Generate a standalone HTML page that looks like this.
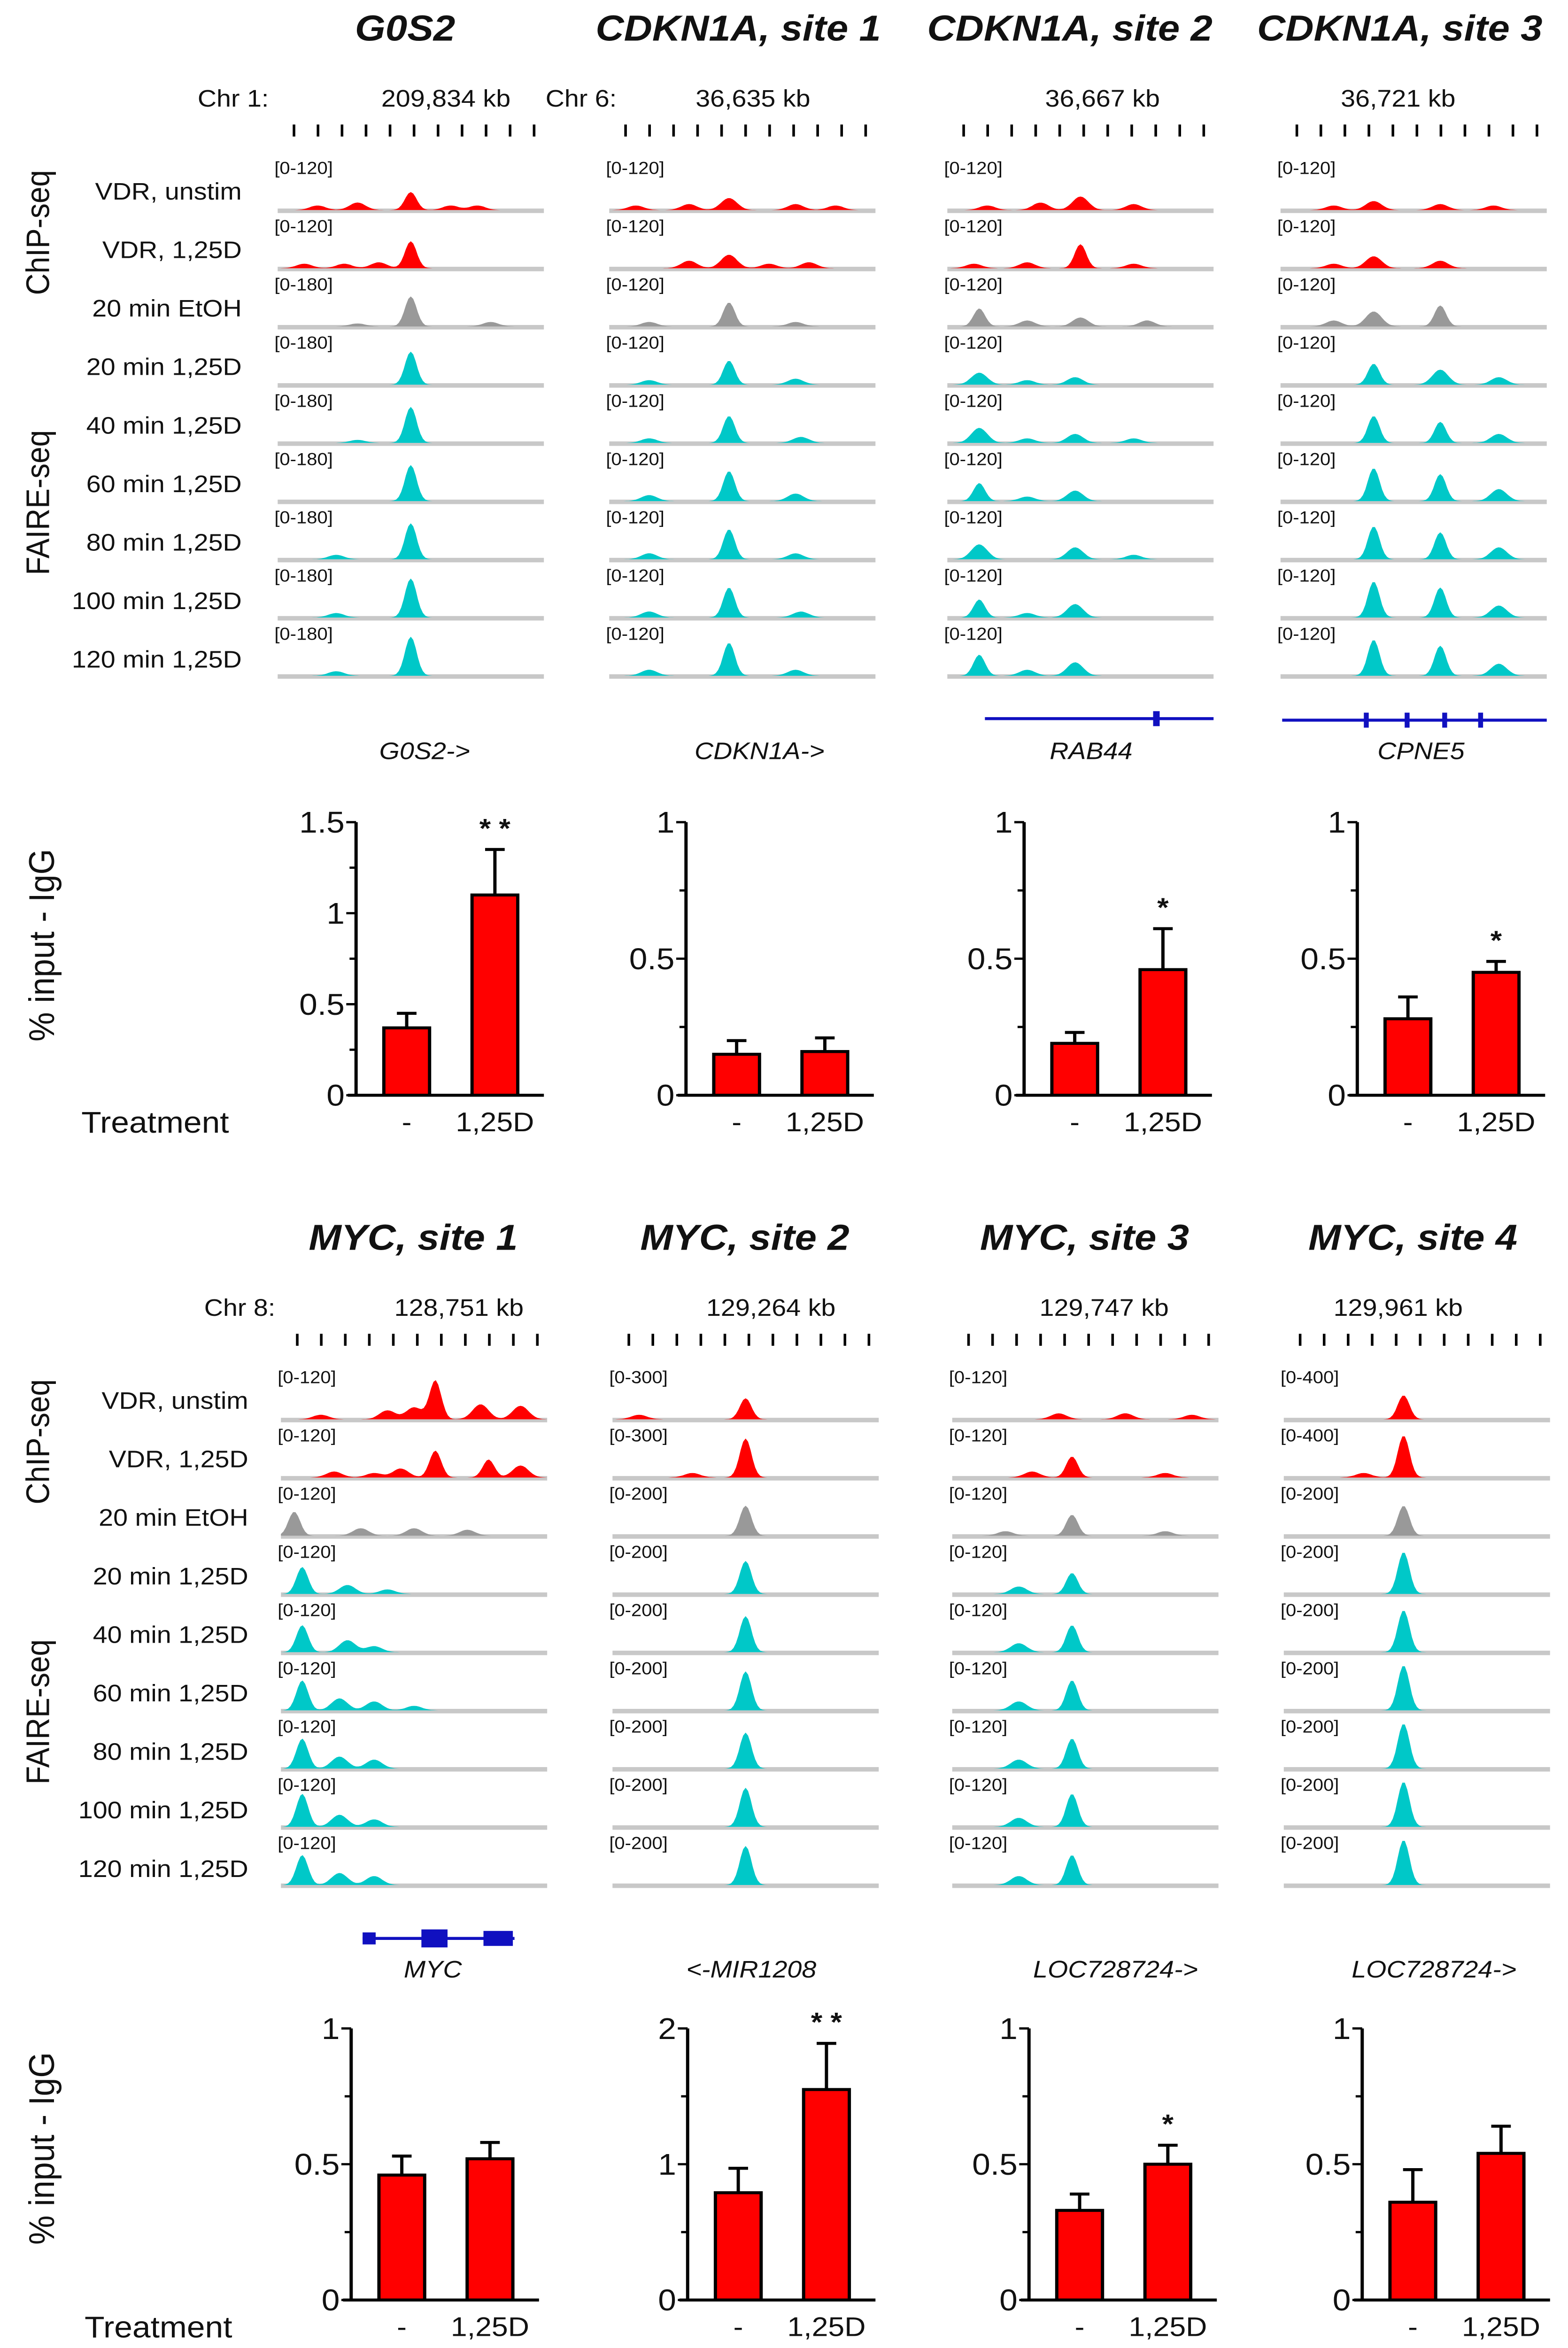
<!DOCTYPE html>
<html><head><meta charset="utf-8"><style>
html,body{margin:0;padding:0;background:#fff;overflow:hidden;width:100%;height:100%}
svg{display:block;position:absolute;left:0;top:0;width:100vw;height:100vh}
text{font-family:"Liberation Sans",Arial,sans-serif;fill:#111}
</style></head><body>
<svg id="fig" xmlns="http://www.w3.org/2000/svg" viewBox="0 0 960 1565" preserveAspectRatio="none"></svg>
<script>
// ---------- data ----------
const titlesTop = ["G0S2","CDKN1A, site 1","CDKN1A, site 2","CDKN1A, site 3"];
const titlesBot = ["MYC, site 1","MYC, site 2","MYC, site 3","MYC, site 4"];
const trackLabels = ["VDR, unstim","VDR, 1,25D","20 min EtOH","20 min 1,25D","40 min 1,25D","60 min 1,25D","80 min 1,25D","100 min 1,25D","120 min 1,25D"];
const rangesTop = [
 ["[0-120]","[0-120]","[0-180]","[0-180]","[0-180]","[0-180]","[0-180]","[0-180]","[0-180]"],
 ["[0-120]","[0-120]","[0-120]","[0-120]","[0-120]","[0-120]","[0-120]","[0-120]","[0-120]"],
 ["[0-120]","[0-120]","[0-120]","[0-120]","[0-120]","[0-120]","[0-120]","[0-120]","[0-120]"],
 ["[0-120]","[0-120]","[0-120]","[0-120]","[0-120]","[0-120]","[0-120]","[0-120]","[0-120]"]];
const rangesBot = [
 ["[0-120]","[0-120]","[0-120]","[0-120]","[0-120]","[0-120]","[0-120]","[0-120]","[0-120]"],
 ["[0-300]","[0-300]","[0-200]","[0-200]","[0-200]","[0-200]","[0-200]","[0-200]","[0-200]"],
 ["[0-120]","[0-120]","[0-120]","[0-120]","[0-120]","[0-120]","[0-120]","[0-120]","[0-120]"],
 ["[0-400]","[0-400]","[0-200]","[0-200]","[0-200]","[0-200]","[0-200]","[0-200]","[0-200]"]];
const peaksTop = [
 [[[0.5,12],[0.3,5],[0.15,3],[0.65,3],[0.75,3]],[[0.5,18],[0.38,4],[0.1,3],[0.25,3]],[[0.5,20],[0.3,2],[0.8,3]],
  [[0.5,22]],[[0.5,24],[0.3,2]],[[0.5,24]],[[0.5,24],[0.22,3]],[[0.5,26],[0.22,3]],[[0.5,26],[0.22,3]]],
 [[[0.45,8],[0.3,4],[0.7,4],[0.1,3],[0.85,3]],[[0.45,9],[0.3,5],[0.75,4],[0.6,3]],[[0.45,16],[0.15,3],[0.7,3]],
  [[0.45,16],[0.15,3],[0.7,4]],[[0.45,18],[0.15,3],[0.72,4]],[[0.45,20],[0.15,4],[0.7,5]],[[0.45,20],[0.15,4],[0.7,4]],[[0.45,20],[0.15,4],[0.72,4]],[[0.45,22],[0.15,4],[0.7,4]]],
 [[[0.5,9],[0.35,5],[0.7,4],[0.15,3]],[[0.5,16],[0.3,4],[0.7,3],[0.1,3]],[[0.12,12],[0.5,6],[0.3,4],[0.75,4]],
  [[0.12,8],[0.48,5],[0.3,3]],[[0.12,10],[0.48,6],[0.3,3],[0.7,3]],[[0.12,12],[0.48,7],[0.3,3]],[[0.12,10],[0.48,8],[0.7,3]],[[0.12,12],[0.48,9],[0.3,3]],[[0.12,14],[0.48,9],[0.3,4]]],
 [[[0.35,6],[0.6,4],[0.2,3],[0.8,3]],[[0.35,8],[0.6,5],[0.2,3]],[[0.35,10],[0.6,14],[0.2,4]],
  [[0.35,14],[0.6,10],[0.82,5]],[[0.35,18],[0.6,14],[0.82,6]],[[0.35,22],[0.6,18],[0.82,8]],[[0.35,22],[0.6,18],[0.82,8]],[[0.35,24],[0.6,20],[0.82,8]],[[0.35,24],[0.6,20],[0.82,8]]]];
const peaksBot = [
 [[[0.58,26],[0.5,8],[0.4,6],[0.75,10],[0.9,9],[0.15,3]],[[0.58,18],[0.45,6],[0.78,12],[0.9,8],[0.2,4],[0.35,3]],[[0.05,16],[0.3,5],[0.5,5],[0.7,4]],
  [[0.08,18],[0.25,6],[0.4,3]],[[0.08,18],[0.25,8],[0.35,4]],[[0.08,20],[0.22,8],[0.35,6],[0.5,3]],[[0.08,20],[0.22,8],[0.35,6]],[[0.08,22],[0.22,8],[0.35,5]],[[0.08,20],[0.22,8],[0.35,6]]],
 [[[0.5,14],[0.1,3]],[[0.5,26],[0.3,3]],[[0.5,20]],[[0.5,22]],[[0.5,24]],[[0.5,26]],[[0.5,24]],[[0.5,26]],[[0.5,26]]],
 [[[0.4,4],[0.65,4],[0.9,3]],[[0.45,14],[0.3,4],[0.8,3]],[[0.45,14],[0.2,3],[0.8,3]],
  [[0.45,14],[0.25,5]],[[0.45,18],[0.25,6]],[[0.45,20],[0.25,6]],[[0.45,20],[0.25,6]],[[0.45,22],[0.25,6]],[[0.45,20],[0.25,6]]],
 [[[0.45,16]],[[0.45,28],[0.3,3]],[[0.45,20]],[[0.45,28]],[[0.45,28]],[[0.45,30]],[[0.45,30]],[[0.45,30]],[[0.45,30]]]];
const barCats = ["-","1,25D"];
const barTopVals = [[0.37,1.10],[0.15,0.16],[0.19,0.46],[0.28,0.45]];
const barTopErr = [[0.45,1.35],[0.20,0.21],[0.23,0.61],[0.36,0.49]];
const barTopStars = ["**","","*","*"];
const barBotVals = [[0.46,0.52],[0.79,1.55],[0.33,0.50],[0.36,0.54]];
const barBotErr = [[0.53,0.58],[0.97,1.89],[0.39,0.57],[0.48,0.64]];
const barBotStars = ["","**","*",""];

// ---------- helpers ----------
const svg=document.getElementById('fig');
const NS="http://www.w3.org/2000/svg";
function mk(tag,attrs,parent){const e=document.createElementNS(NS,tag);for(const k in attrs)e.setAttribute(k,attrs[k]);(parent||svg).appendChild(e);return e;}
function txt(x,y,s,size,extra,parent){const e=mk('text',Object.assign({x:x,y:y,'font-size':size},extra||{}),parent);e.textContent=s;return e;}

const colXTop=[170,373,580,784], colXBot=[172,375,583,786], PW=163;
const COLORS=["#ff0000","#ff0000","#999999","#00c8c8","#00c8c8","#00c8c8","#00c8c8","#00c8c8","#00c8c8"];

function drawSection(off, titles, titleX, colX, ranges, peaks, labelX, chr, kb, kbX, genes, geneX, geneY){
  titles.forEach((t,i)=>{
    const e=txt(titleX[i],off+35,t,24,{'font-weight':'bold','font-style':'italic','text-anchor':'middle'});
    
    
  });
  chr.forEach((c)=>{ if(c){const e=txt(c[0],off+79,c[1],16);}});
  kb.forEach((k,i)=>{const e=txt(kbX[i],off+79,k,16,{'text-anchor':'middle'});});
  colX.forEach((x0,c)=>{
    const g=mk('g',{});
    
    
    for(let k=0;k<11;k++){const x=x0+10+k*14.7;mk('line',{x1:x,x2:x,y1:off+91,y2:off+99,stroke:'#000','stroke-width':1.6},g);}
  });
  trackLabels.forEach((l,r)=>{
    const e=txt(labelX,off+141+r*39,l,16,{'text-anchor':'end'});
    
    
  });
  colX.forEach((x0,c)=>{
    for(let r=0;r<9;r++){
      const base=off+148+r*38.8;
      const g=mk('g',{});
      
      
      txt(x0-2,base-24,ranges[c][r],11.5,{},g);
      mk('rect',{x:x0,y:base-1,width:PW,height:3,fill:'#c8c8c8'},g);
      const pk=peaks[c][r];
      let d='M'+x0+','+(base);
      const N=110;
      for(let s=0;s<=N;s++){
        const f=s/N;let h=0;
        pk.forEach(p=>{const w=p[1]>10?0.022:0.03;h+=p[1]*Math.exp(-((f-p[0])*(f-p[0]))/(2*w*w));});
        const xx=x0+f*PW;
        d+=' L'+xx.toFixed(1)+','+(base-h).toFixed(1);
      }
      d+=' L'+(x0+PW)+','+base+' Z';
      mk('path',{d:d,fill:COLORS[r]},g);
    }
  });
  genes.forEach((g,i)=>{const e=txt(geneX[i],geneY,g,16,{'font-style':'italic','text-anchor':'middle'});});
}

function sideLabels(off){
  let e=txt(0,0,"ChIP-seq",20,{'text-anchor':'middle',transform:`translate(30,${off+155}) rotate(-90)`});
  
  e=txt(0,0,"FAIRE-seq",20,{'text-anchor':'middle',transform:`translate(30,${off+335}) rotate(-90)`});
  
}

function drawBars(zeroY, topY, axX, maxV, vals, errs, star, idx, tickList){
  const g=mk('g',{});
  
  
  const y=v=>zeroY-(v/maxV)*(zeroY-topY);
  mk('line',{x1:axX,x2:axX,y1:topY,y2:zeroY,stroke:'#000','stroke-width':2},g);
  mk('line',{x1:axX-5,x2:axX+115,y1:zeroY,y2:zeroY,stroke:'#000','stroke-width':2},g);
  const step=maxV>=2?1:0.5;
  for(let v=0;v<=maxV+1e-6;v+=step/2){
    const major=Math.abs(v/step-Math.round(v/step))<1e-6;
    mk('line',{x1:axX-(major?6:4),x2:axX,y1:y(v),y2:y(v),stroke:'#000','stroke-width':1.5},g);
  }
  tickList.forEach(t=>{ txt(axX-7,y(t[0])+7,t[1],20,{'text-anchor':'end'},g); });
  vals.forEach((v,i)=>{
    const cx=axX+31+i*54;
    mk('line',{x1:cx,x2:cx,y1:y(errs[i]),y2:y(v),stroke:'#000','stroke-width':2},g);
    mk('line',{x1:cx-6,x2:cx+6,y1:y(errs[i]),y2:y(errs[i]),stroke:'#000','stroke-width':2},g);
    const b=mk('rect',{x:cx-14,y:y(v),width:28,height:zeroY-y(v),fill:'#ff0000',stroke:'#000','stroke-width':2},g);
    
    
    txt(cx,zeroY+24,barCats[i],18,{'text-anchor':'middle'},g);
    if(i===1&&star){
      txt(cx,y(errs[i])-8,star.split('').join(' '),18,{'text-anchor':'middle','font-weight':'bold'},g);
    }
  });
}

// ---------- top section ----------
drawSection(-8, titlesTop,[248,452,655,857],colXTop,rangesTop,peaksTop,148,
  [[121,"Chr 1:"],[334,"Chr 6:"]],["209,834 kb","36,635 kb","36,667 kb","36,721 kb"],[273,461,675,856],
  ["G0S2->","CDKN1A->","RAB44","CPNE5"],[260,465,668,870],506);
sideLabels(0);
(function(){
  let g=mk('g',{});
  mk('line',{x1:603,x2:743,y1:479,y2:479,stroke:'#1010c0','stroke-width':2},g);
  mk('rect',{x:706,y:474,width:4,height:10,fill:'#1010c0'},g);
  g=mk('g',{});
  mk('line',{x1:785,x2:947,y1:480,y2:480,stroke:'#1010c0','stroke-width':2},g);
  [835,860,883,905].forEach(x=>mk('rect',{x:x,y:475,width:3,height:10,fill:'#1010c0'},g));
})();
const tt1=[[0,"0"],[0.5,"0.5"],[1,"1"],[1.5,"1.5"]], tt2=[[0,"0"],[0.5,"0.5"],[1,"1"]];
drawBars(730,548,218,1.5,barTopVals[0],barTopErr[0],barTopStars[0],1,tt1);
drawBars(730,548,420,1,barTopVals[1],barTopErr[1],barTopStars[1],2,tt2);
drawBars(730,548,627,1,barTopVals[2],barTopErr[2],barTopStars[2],3,tt2);
drawBars(730,548,831,1,barTopVals[3],barTopErr[3],barTopStars[3],4,tt2);
let e=txt(95,755,"Treatment",20,{'text-anchor':'middle'});
e=txt(0,0,"% input - IgG",22,{'text-anchor':'middle',transform:'translate(33,630) rotate(-90)'});

// ---------- bottom section ----------
drawSection(798, titlesBot,[253,456,664,865],colXBot,rangesBot,peaksBot,152,
  [[125,"Chr 8:"]],["128,751 kb","129,264 kb","129,747 kb","129,961 kb"],[281,472,676,856],
  ["MYC","<-MIR1208","LOC728724->","LOC728724->"],[265,460,683,878],1318);
sideLabels(806);
(function(){
  const g=mk('g',{});
  mk('line',{x1:222,x2:315,y1:1292,y2:1292,stroke:'#1010c0','stroke-width':2},g);
  mk('rect',{x:222,y:1288,width:8,height:8,fill:'#1010c0'},g);
  mk('rect',{x:258,y:1286,width:16,height:12,fill:'#1010c0'},g);
  mk('rect',{x:296,y:1287,width:18,height:10,fill:'#1010c0'},g);
})();
const tb2=[[0,"0"],[1,"1"],[2,"2"]];
drawBars(1533,1352,215,1,barBotVals[0],barBotErr[0],barBotStars[0],5,tt2);
drawBars(1533,1352,421,2,barBotVals[1],barBotErr[1],barBotStars[1],6,tb2);
drawBars(1533,1352,630,1,barBotVals[2],barBotErr[2],barBotStars[2],7,tt2);
drawBars(1533,1352,834,1,barBotVals[3],barBotErr[3],barBotStars[3],8,tt2);
e=txt(97,1558,"Treatment",20,{'text-anchor':'middle'});
e=txt(0,0,"% input - IgG",22,{'text-anchor':'middle',transform:'translate(33,1432) rotate(-90)'});
</script>
</body></html>
